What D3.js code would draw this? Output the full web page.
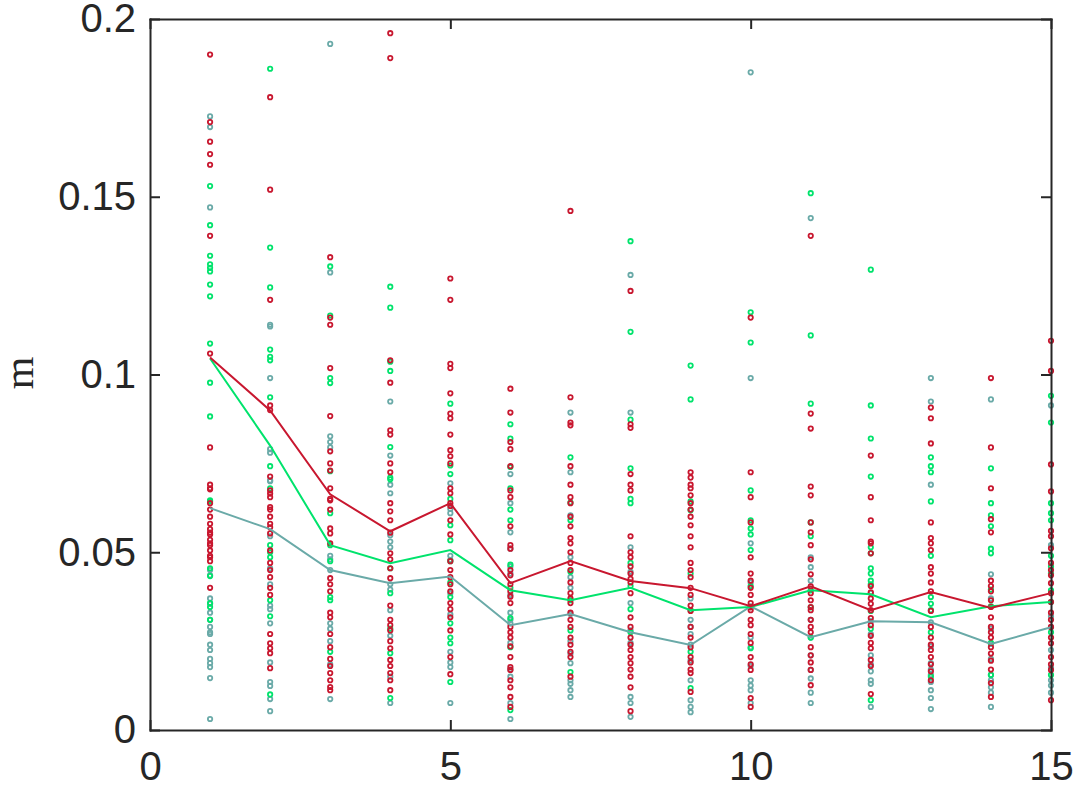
<!DOCTYPE html>
<html>
<head>
<meta charset="utf-8">
<title>m scatter</title>
<script src="https://cdn.jsdelivr.net/npm/d3@7"></script>
<style>
  body { margin: 0; background: #fff; }
  .axis text { font-family: "Liberation Sans", Arial, sans-serif; font-size: 40px; fill: #262626; }
  .axis path, .axis line { stroke: #262626; stroke-width: 2; }
</style>
</head>
<body>
<script>
// x positions (iteration) and tick labels
const xs = [1, 2, 3, 4, 5, 6, 7, 8, 9, 10, 11, 12, 13, 14, 15];
const xTicks = [0, 5, 10, 15];
const yTicks = [0, 0.05, 0.1, 0.15, 0.2];

// scatter values, one list per x position
const redPts = [
  [0.190,0.171,0.1655,0.162,0.159,0.139,0.1059,0.0795,0.069,0.0677,0.068,0.0638,0.062,0.060,0.058,0.0565,0.055,0.0535,0.052,0.0505,0.049,0.0486,0.0475,0.040,0.0555,0.0525],
  [0.178,0.152,0.121,0.0913,0.090,0.0713,0.0674,0.0665,0.0655,0.0627,0.060,0.058,0.0553,0.047,0.045,0.043,0.038,0.027,0.0244,0.023,0.0216,0.0174,0.062,0.057,0.0505,0.040],
  [0.133,0.116,0.114,0.1018,0.0883,0.0784,0.075,0.073,0.068,0.065,0.0646,0.062,0.0567,0.0553,0.0525,0.0427,0.041,0.039,0.033,0.0317,0.027,0.0233,0.020,0.018,0.016,0.014,0.0121,0.0112],
  [0.196,0.189,0.104,0.0977,0.0843,0.0831,0.075,0.0725,0.0638,0.0615,0.059,0.0497,0.048,0.0455,0.0427,0.035,0.031,0.0295,0.028,0.025,0.023,0.0197,0.018,0.016,0.014,0.0112,0.0555],
  [0.127,0.121,0.103,0.1018,0.0947,0.089,0.0877,0.0831,0.0787,0.077,0.075,0.068,0.0666,0.0638,0.059,0.055,0.045,0.043,0.041,0.039,0.0357,0.034,0.0317,0.028,0.0205,0.0157,0.063,0.0475],
  [0.096,0.0893,0.081,0.079,0.0742,0.0674,0.0655,0.0573,0.052,0.051,0.045,0.041,0.039,0.0375,0.0357,0.029,0.0275,0.026,0.0205,0.0177,0.0169,0.014,0.012,0.0093,0.0065,0.0435,0.0235],
  [0.146,0.0936,0.0865,0.0857,0.0742,0.069,0.0655,0.0638,0.060,0.0573,0.054,0.0525,0.050,0.047,0.045,0.0385,0.037,0.0357,0.033,0.031,0.029,0.026,0.024,0.022,0.0205,0.015,0.0415],
  [0.1235,0.086,0.085,0.072,0.069,0.0674,0.0545,0.050,0.0486,0.046,0.044,0.0415,0.0385,0.0317,0.029,0.026,0.024,0.0225,0.0205,0.0188,0.017,0.015,0.012,0.0053,0.0425],
  [0.0725,0.071,0.069,0.068,0.066,0.0638,0.062,0.060,0.0576,0.0545,0.0514,0.047,0.045,0.043,0.040,0.035,0.0335,0.026,0.0233,0.0205,0.019,0.017,0.016,0.0107,0.038,0.029],
  [0.116,0.0725,0.0655,0.0584,0.0486,0.044,0.042,0.040,0.038,0.0357,0.0337,0.031,0.0295,0.0205,0.0185,0.0169,0.009,0.0065,0.0345,0.027,0.0245],
  [0.139,0.089,0.0848,0.0685,0.066,0.0584,0.0556,0.052,0.048,0.0438,0.0385,0.0365,0.0346,0.0337,0.031,0.029,0.0275,0.0233,0.021,0.019,0.0169,0.0126,0.0404],
  [0.0772,0.0655,0.059,0.053,0.0525,0.0497,0.0387,0.037,0.0355,0.0337,0.0315,0.0295,0.0265,0.0245,0.0197,0.018,0.0101,0.0405,0.023],
  [0.0907,0.0877,0.0806,0.0584,0.054,0.0525,0.0506,0.0458,0.044,0.0415,0.039,0.029,0.026,0.024,0.0205,0.0185,0.014,0.0225,0.0335,0.0165],
  [0.099,0.0795,0.068,0.0593,0.0556,0.042,0.0405,0.039,0.0346,0.0317,0.029,0.026,0.0233,0.0215,0.0195,0.017,0.0132,0.0093,0.0365,0.0275],
  [0.1095,0.101,0.0747,0.0671,0.056,0.0545,0.0511,0.047,0.045,0.0413,0.0385,0.036,0.033,0.031,0.029,0.026,0.0244,0.0205,0.0185,0.0169,0.0084,0.0435]
];
const greenPts = [
  [0.153,0.142,0.1334,0.131,0.130,0.129,0.1253,0.122,0.1087,0.0977,0.0882,0.0646,0.0643,0.0433,0.0357,0.0346,0.0455,0.031],
  [0.186,0.1357,0.1245,0.107,0.105,0.104,0.0936,0.0742,0.068,0.052,0.0486,0.032,0.010,0.050,0.0365],
  [0.1304,0.1166,0.099,0.0976,0.0728,0.061,0.0374,0.0365,0.052,0.0475,0.022],
  [0.1247,0.1188,0.1036,0.101,0.0796,0.071,0.0705,0.0385,0.0216,0.009,0.0455,0.0285],
  [0.0918,0.0744,0.072,0.065,0.0576,0.0534,0.0374,0.030,0.026,0.0244,0.0135,0.0475,0.0415],
  [0.086,0.082,0.074,0.068,0.062,0.059,0.040,0.0233,0.0056,0.0315,0.0465],
  [0.0767,0.064,0.059,0.0163,0.0365,0.0445,0.028],
  [0.1375,0.112,0.0873,0.0736,0.065,0.0638,0.047,0.034,0.0405,0.0275],
  [0.1025,0.093,0.0643,0.0618,0.0118,0.0337,0.044,0.022],
  [0.1175,0.109,0.0674,0.059,0.0567,0.055,0.0506,0.0346,0.0405,0.023],
  [0.151,0.111,0.0918,0.0584,0.0545,0.0393,0.026,0.0345],
  [0.1295,0.0913,0.082,0.0713,0.0514,0.0497,0.0455,0.044,0.042,0.041,0.0084,0.0335,0.0285],
  [0.0767,0.0742,0.0725,0.0643,0.049,0.0374,0.0355,0.0337,0.0275,0.015],
  [0.0736,0.0638,0.0604,0.0573,0.051,0.0497,0.0348,0.0245,0.0155,0.0395],
  [0.094,0.0865,0.0638,0.061,0.059,0.049,0.046,0.044,0.0393,0.0155,0.036,0.0275]
];
const tealPts = [
  [0.1726,0.1696,0.147,0.045,0.037,0.033,0.031,0.029,0.027,0.0275,0.024,0.0225,0.020,0.0188,0.0177,0.0146,0.0031,0.0435,0.0355],
  [0.114,0.1135,0.099,0.079,0.078,0.0702,0.070,0.041,0.035,0.030,0.019,0.0135,0.0124,0.0087,0.0053,0.034,0.0545,0.0455],
  [0.193,0.1287,0.0826,0.081,0.0795,0.049,0.048,0.030,0.0285,0.0087,0.045,0.025,0.0185],
  [0.0924,0.0772,0.069,0.0666,0.0548,0.053,0.0514,0.041,0.0337,0.0076,0.0395,0.0265,0.015],
  [0.0694,0.0622,0.061,0.049,0.0478,0.022,0.019,0.0177,0.0076,0.0325,0.0385],
  [0.072,0.0638,0.0556,0.051,0.046,0.044,0.033,0.031,0.030,0.017,0.015,0.0076,0.0031,0.038,0.0245],
  [0.0893,0.0725,0.0604,0.0486,0.043,0.040,0.0188,0.014,0.013,0.0112,0.0093,0.0326,0.025,0.0215],
  [0.128,0.0893,0.0514,0.0357,0.0093,0.0076,0.0037,0.028,0.0245,0.0445],
  [0.037,0.031,0.029,0.027,0.014,0.0084,0.0065,0.005,0.024,0.0195],
  [0.185,0.099,0.0525,0.026,0.0233,0.014,0.0125,0.0112,0.0076,0.0348,0.0415,0.018],
  [0.144,0.0486,0.0458,0.042,0.026,0.0169,0.0145,0.0105,0.0076,0.031,0.021],
  [0.021,0.014,0.013,0.0065,0.0306,0.0385,0.027,0.0185,0.0165],
  [0.099,0.0924,0.069,0.0188,0.017,0.0135,0.0112,0.009,0.0059,0.0303,0.0235,0.0155],
  [0.093,0.0438,0.037,0.0155,0.014,0.012,0.0105,0.0065,0.0242,0.0285,0.02],
  [0.0913,0.052,0.0289,0.014,0.0125,0.0105,0.0225,0.0175,0.032]
];

// line values
const redLine = [0.1048,0.0899,0.0663,0.0559,0.0638,0.0413,0.0475,0.0419,0.0399,0.0348,0.0404,0.0337,0.0388,0.0343,0.0385];
const greenLine = [0.1045,0.080,0.052,0.0469,0.0506,0.0393,0.0365,0.040,0.0337,0.0346,0.0393,0.0382,0.0317,0.0348,0.036];
const tealLine = [0.0624,0.0565,0.0450,0.0413,0.0432,0.0295,0.0326,0.0275,0.0239,0.0348,0.0261,0.0306,0.0303,0.0242,0.0289];

const W = 1073, H = 788;
const plotL = 150, plotR = 1051, plotT = 19, plotB = 730;

const svg = d3.select("body").append("svg")
  .attr("width", W)
  .attr("height", H);

const x = d3.scaleLinear().domain([0, 15]).range([plotL, plotR]);
const y = d3.scaleLinear().domain([0, 0.2]).range([plotB, plotT]);

const series = [
  { pts: tealPts, line: tealLine, color: "#6aaaa8" },
  { pts: greenPts, line: greenLine, color: "#00e36c" },
  { pts: redPts, line: redLine, color: "#c8172f" }
];

// scatter rings
for (let s of series) {
  let flat = [];
  s.pts.forEach(function (col, i) {
    col.forEach(function (v) { flat.push([xs[i], v]); });
  });
  svg.append("g").selectAll("circle")
    .data(flat)
    .enter()
    .append("circle")
    .attr("cx", d => x(d[0]))
    .attr("cy", d => y(d[1]))
    .attr("r", 2.2)
    .attr("fill", "none")
    .attr("stroke", s.color)
    .attr("stroke-width", 1.8);
}

// lines
const line = d3.line()
  .x((d, i) => x(xs[i]))
  .y(d => y(d));
for (let s of series) {
  svg.append("path")
    .datum(s.line)
    .attr("d", line)
    .attr("fill", "none")
    .attr("stroke", s.color)
    .attr("stroke-width", 2);
}

// axes (box with inward ticks)
svg.append("g").attr("class", "axis")
  .attr("transform", "translate(0," + plotB + ")")
  .call(d3.axisBottom(x).tickValues(xTicks).tickFormat(d3.format("d")).tickSizeInner(-10).tickSizeOuter(0).tickPadding(22));
svg.append("g").attr("class", "axis")
  .attr("transform", "translate(0," + plotT + ")")
  .call(d3.axisTop(x).tickValues(xTicks).tickFormat("").tickSizeInner(-10).tickSizeOuter(0));
svg.append("g").attr("class", "axis")
  .attr("transform", "translate(" + plotL + ",0)")
  .call(d3.axisLeft(y).tickValues(yTicks).tickFormat(d => d === 0 ? "0" : String(d)).tickSizeInner(-10).tickSizeOuter(0).tickPadding(14));
svg.append("g").attr("class", "axis")
  .attr("transform", "translate(" + plotR + ",0)")
  .call(d3.axisRight(y).tickValues(yTicks).tickFormat("").tickSizeInner(-10).tickSizeOuter(0));

svg.selectAll(".axis path.domain").attr("stroke-linecap", "square");

// y label
svg.append("text")
  .attr("transform", "translate(33,373) rotate(-90)")
  .attr("text-anchor", "middle")
  .style("font-family", "'Liberation Serif', 'Times New Roman', serif")
  .style("font-size", "42px")
  .style("fill", "#262626")
  .text("m");
</script>
</body>
</html>
